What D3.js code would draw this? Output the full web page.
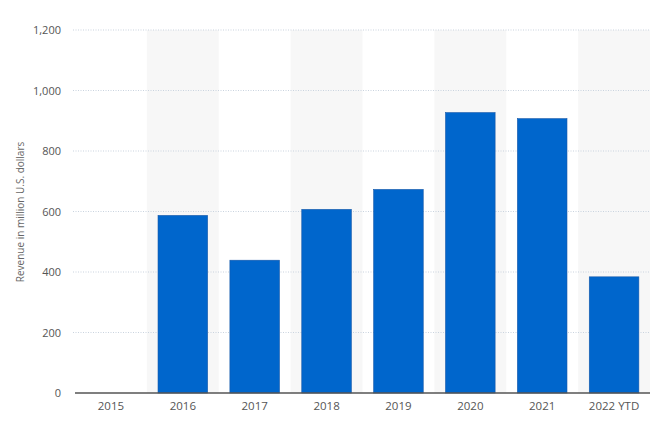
<!DOCTYPE html>
<html><head><meta charset="utf-8">
<script src="https://cdn.jsdelivr.net/npm/d3@7"></script>
<style>body{margin:0;background:#fff}svg{display:block}</style>
</head><body>
<script>
const categories = ["2015","2016","2017","2018","2019","2020","2021","2022 YTD"];
const revenue = [0, 587, 439, 607, 673, 927, 907, 384];
const yTicks = [0, 200, 400, 600, 800, 1000, 1200];
const shadedCategories = ["2016","2018","2020","2022 YTD"];

const W = 660, H = 425;
const svg = d3.select("body").append("svg").attr("width", W).attr("height", H);
const x = d3.scaleBand().domain(categories).range([75, 650]).paddingInner(0.31).paddingOuter(0.155);
const xFull = d3.scaleBand().domain(categories).range([75, 650]).padding(0);
const y = d3.scaleLinear().domain([0, 1200]).range([393, 30]);

// shaded bands
svg.append("g").selectAll("rect").data(shadedCategories).join("rect")
  .attr("x", d => xFull(d)).attr("width", xFull.bandwidth())
  .attr("y", y(1200)).attr("height", y(0) - y(1200))
  .attr("fill", "#f7f7f7");

// grid
svg.append("g").selectAll("line").data(yTicks.filter(t => t > 0)).join("line")
  .attr("x1", 73).attr("x2", 650).attr("y1", d => y(d)).attr("y2", d => y(d))
  .attr("stroke", "#c9d3de").attr("stroke-width", 1).attr("stroke-dasharray", "1,1.5");

// y axis labels
const yAxis = d3.axisLeft(y).tickValues(yTicks).tickSize(0).tickPadding(0).tickFormat(d3.format(","));
const ya = svg.append("g").attr("transform", "translate(61,0)").call(yAxis);
ya.select(".domain").remove();
ya.selectAll("text").attr("font-family", "'Open Sans', sans-serif").attr("font-size", 11).attr("fill", "#555").attr("dy", "0.35em");

// bars
svg.append("g").selectAll("rect").data(categories.map((c, i) => ({c, v: revenue[i]})).filter(d => d.v > 0)).join("rect")
  .attr("x", d => x(d.c)).attr("width", x.bandwidth())
  .attr("y", d => y(d.v)).attr("height", d => y(0) - y(d.v))
  .attr("fill", "#0066cc").attr("stroke", "#1457a8").attr("stroke-width", 0.6);

// x axis
const xAxis = d3.axisBottom(xFull).tickSize(0).tickPadding(9);
const xa = svg.append("g").attr("transform", `translate(0,${y(0)})`).call(xAxis);
xa.select(".domain").attr("stroke", "#555").attr("stroke-width", 1.5).attr("d", "M75,0H650");
xa.selectAll("text").attr("font-family", "'Open Sans', sans-serif").attr("font-size", 11.5).attr("fill", "#555").attr("dy", "0.71em");

// y title
svg.append("text").attr("transform", "translate(24,212) rotate(-90)")
  .attr("text-anchor", "middle").attr("font-family", "'Open Sans', sans-serif")
  .attr("font-size", 10).attr("fill", "#666").text("Revenue in million U.S. dollars");
</script>
</body></html>
